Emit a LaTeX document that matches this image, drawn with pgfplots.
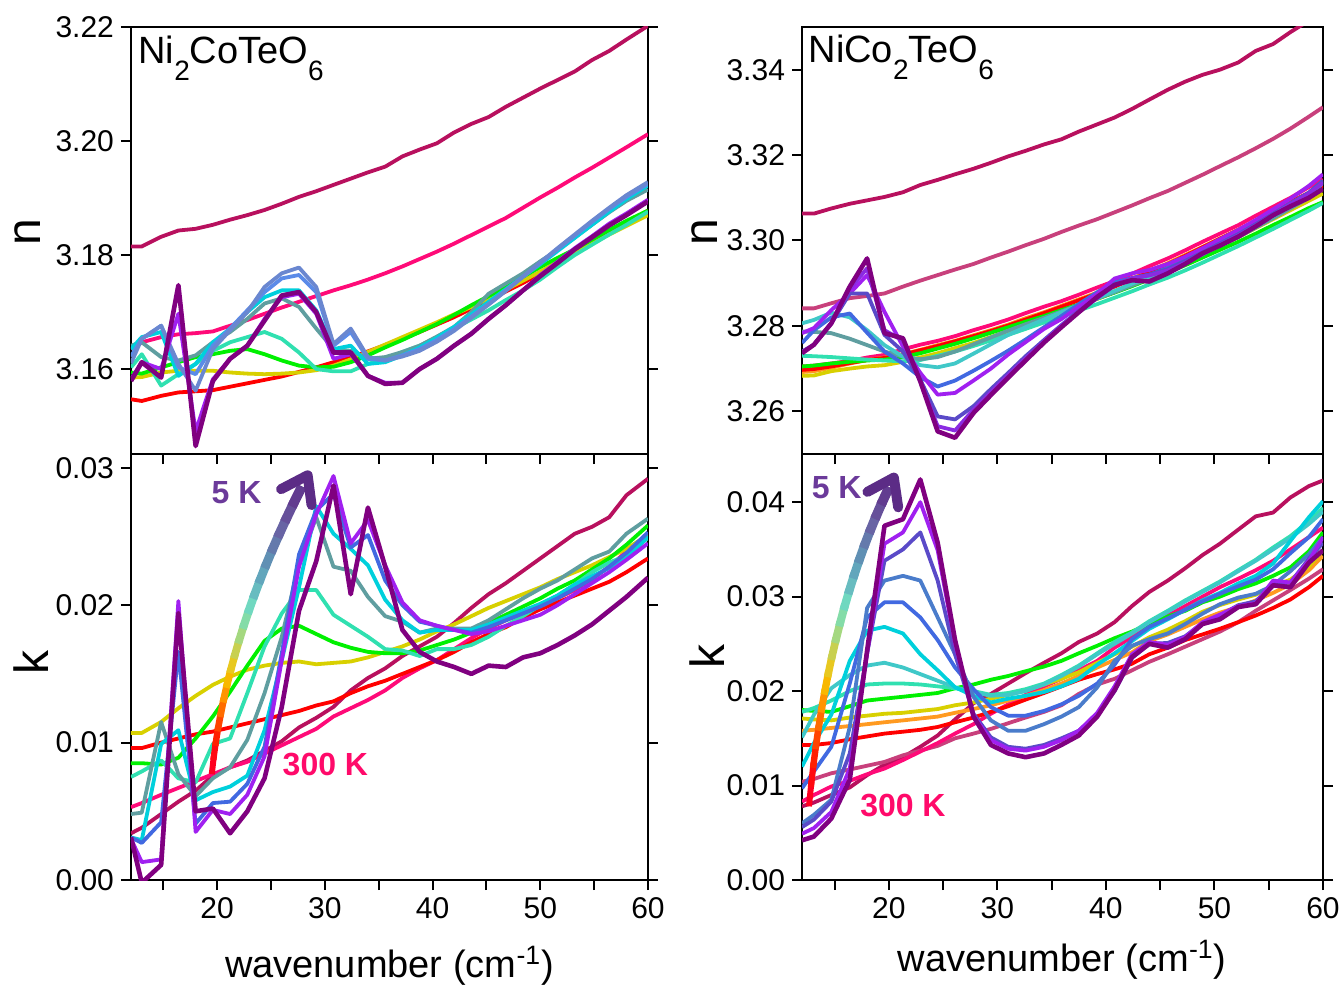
\documentclass[border=0pt]{standalone}
\usepackage{fontspec}
\setmainfont{Liberation Sans}
\usepackage{pgfplots}
\usepackage{pgfplotstable}
\pgfplotsset{compat=1.18}
\usetikzlibrary{calc, arrows.meta}

% curve colours
\definecolor{cCr}{HTML}{B8105E}
\definecolor{cMv}{HTML}{C8407C}
\definecolor{cPk}{HTML}{FF0A78}
\definecolor{cRd}{HTML}{FF0000}
\definecolor{cOr}{HTML}{FF9A20}
\definecolor{cYe}{HTML}{D8D000}
\definecolor{cGr}{HTML}{00F000}
\definecolor{cAq}{HTML}{30E0B0}
\definecolor{cCa}{HTML}{5F9EA0}
\definecolor{cMt}{HTML}{40C8C8}
\definecolor{cCy}{HTML}{00D0DC}
\definecolor{cCb}{HTML}{5B8BE8}
\definecolor{cSb}{HTML}{6A87D0}
\definecolor{cBl}{HTML}{4169E1}
\definecolor{cSt}{HTML}{4A7CCB}
\definecolor{cSl}{HTML}{5A4AC8}
\definecolor{cVi}{HTML}{A020F0}
\definecolor{cBv}{HTML}{8A2BE2}
\definecolor{cPu}{HTML}{800080}
\definecolor{c5K}{HTML}{6B3A9A}
\definecolor{c300}{HTML}{FF0A6A}

% arrow gradient, bottom (300 K) to top (5 K)
\definecolor{ar0}{HTML}{FF0020}
\definecolor{ar1}{HTML}{FF0A10}
\definecolor{ar2}{HTML}{FF2000}
\definecolor{ar3}{HTML}{FF4400}
\definecolor{ar4}{HTML}{FF6C00}
\definecolor{ar5}{HTML}{FF9400}
\definecolor{ar6}{HTML}{F8B800}
\definecolor{ar7}{HTML}{E8C820}
\definecolor{ar8}{HTML}{C8D050}
\definecolor{ar9}{HTML}{A4D880}
\definecolor{ar10}{HTML}{84DCA8}
\definecolor{ar11}{HTML}{70D8C0}
\definecolor{ar12}{HTML}{68BCC0}
\definecolor{ar13}{HTML}{62A6BC}
\definecolor{ar14}{HTML}{6090B4}
\definecolor{ar15}{HTML}{647AAC}
\definecolor{ar16}{HTML}{6864A4}
\definecolor{ar17}{HTML}{66509A}
\definecolor{ar18}{HTML}{623C90}
\definecolor{ar19}{HTML}{5C2C86}

% Ni2CoTeO6, n
\pgfplotstableread{
x    cr     pk     rd     ye     gr     aq     ca     cy     cb     sb     vi     pu
12.0 3.1815 3.1635 3.1547 3.1585 3.1594 3.1603 3.1641 3.1635 3.1622 3.1610 3.1582 3.1579
13.0 3.1815 3.1647 3.1544 3.1586 3.1592 3.1626 3.1647 3.1656 3.1653 3.1653 3.1612 3.1612
14.8 3.1832 3.1656 3.1553 3.1594 3.1603 3.1571 3.1621 3.1665 3.1676 3.1676 3.1600 3.1585
16.4 3.1843 3.1661 3.1559 3.1597 3.1612 3.1591 3.1615 3.1588 3.1603 3.1609 3.1697 3.1747
18.0 3.1846 3.1663 3.1561 3.1597 3.1621 3.1609 3.1624 3.1609 3.1591 3.1562 3.1491 3.1465
19.6 3.1853 3.1666 3.1563 3.1597 3.1626 3.1632 3.1647 3.1647 3.1641 3.1635 3.1582 3.1579
21.2 3.1862 3.1676 3.1569 3.1594 3.1632 3.1647 3.1665 3.1671 3.1671 3.1668 3.1618 3.1618
22.8 3.1870 3.1686 3.1575 3.1592 3.1635 3.1656 3.1688 3.1700 3.1703 3.1700 3.1641 3.1641
24.4 3.1879 3.1697 3.1581 3.1591 3.1626 3.1665 3.1715 3.1726 3.1735 3.1744 3.1688 3.1685
26.0 3.1890 3.1708 3.1587 3.1592 3.1615 3.1653 3.1724 3.1738 3.1759 3.1768 3.1726 3.1729
27.6 3.1902 3.1718 3.1595 3.1594 3.1606 3.1629 3.1709 3.1738 3.1765 3.1778 3.1732 3.1735
29.2 3.1912 3.1728 3.1603 3.1598 3.1603 3.1600 3.1671 3.1703 3.1735 3.1744 3.1697 3.1700
30.8 3.1923 3.1738 3.1612 3.1606 3.1604 3.1596 3.1635 3.1635 3.1641 3.1644 3.1618 3.1629
32.4 3.1934 3.1747 3.1621 3.1617 3.1612 3.1596 3.1632 3.1641 3.1665 3.1671 3.1626 3.1629
34.0 3.1945 3.1757 3.1631 3.1630 3.1624 3.1609 3.1618 3.1609 3.1618 3.1621 3.1588 3.1588
35.6 3.1955 3.1768 3.1642 3.1643 3.1638 3.1618 3.1621 3.1612 3.1615 3.1615 3.1576 3.1574
37.2 3.1973 3.1780 3.1653 3.1656 3.1651 3.1630 3.1630 3.1624 3.1624 3.1622 3.1576 3.1576
38.8 3.1985 3.1793 3.1665 3.1669 3.1665 3.1641 3.1641 3.1638 3.1635 3.1632 3.1600 3.1600
40.4 3.1996 3.1806 3.1678 3.1682 3.1679 3.1656 3.1657 3.1655 3.1651 3.1648 3.1618 3.1618
42.0 3.2015 3.1820 3.1691 3.1696 3.1695 3.1671 3.1674 3.1674 3.1670 3.1667 3.1641 3.1641
43.6 3.2030 3.1835 3.1706 3.1709 3.1712 3.1687 3.1700 3.1696 3.1692 3.1690 3.1662 3.1662
45.2 3.2042 3.1850 3.1721 3.1724 3.1728 3.1703 3.1732 3.1718 3.1714 3.1713 3.1688 3.1688
46.8 3.2060 3.1865 3.1736 3.1739 3.1744 3.1721 3.1750 3.1740 3.1738 3.1737 3.1712 3.1712
48.4 3.2076 3.1883 3.1751 3.1755 3.1762 3.1738 3.1768 3.1762 3.1762 3.1762 3.1738 3.1738
50.0 3.2092 3.1901 3.1768 3.1771 3.1779 3.1757 3.1789 3.1784 3.1786 3.1787 3.1765 3.1763
51.6 3.2107 3.1918 3.1786 3.1788 3.1795 3.1779 3.1809 3.1807 3.1810 3.1812 3.1788 3.1786
53.2 3.2122 3.1936 3.1804 3.1804 3.1810 3.1800 3.1831 3.1830 3.1834 3.1836 3.1812 3.1810
54.8 3.2142 3.1953 3.1822 3.1820 3.1827 3.1818 3.1853 3.1853 3.1858 3.1860 3.1833 3.1831
56.4 3.2158 3.1971 3.1840 3.1836 3.1844 3.1836 3.1875 3.1876 3.1881 3.1883 3.1855 3.1852
58.0 3.2178 3.1989 3.1857 3.1851 3.1860 3.1853 3.1895 3.1898 3.1902 3.1905 3.1873 3.1870
60.0 3.2202 3.2012 3.1878 3.1870 3.1878 3.1876 3.1915 3.1922 3.1925 3.1928 3.1897 3.1894
}\TLdata

% Ni2CoTeO6, k
\pgfplotstableread{
x    cr     pk     rd     ye     gr     aq     ca     cy     bl     vi     pu
12.0 0.0034 0.0053 0.0096 0.0107 0.0085 0.0075 0.0048 0.0031 0.0031 0.0030 0.0031
13.0 0.0038 0.0056 0.0096 0.0107 0.0085 0.0079 0.0049 0.0029 0.0027 0.0013 -0.0002
14.8 0.0048 0.0062 0.0100 0.0115 0.0084 0.0087 0.0115 0.0099 0.0042 0.0015 0.0011
16.4 0.0057 0.0067 0.0103 0.0125 0.0089 0.0074 0.0077 0.0109 0.0166 0.0203 0.0194
18.0 0.0065 0.0072 0.0106 0.0134 0.0103 0.0071 0.0061 0.0058 0.0041 0.0035 0.0050
19.6 0.0076 0.0077 0.0108 0.0142 0.0119 0.0099 0.0074 0.0064 0.0056 0.0051 0.0052
21.2 0.0082 0.0082 0.0111 0.0148 0.0137 0.0103 0.0082 0.0068 0.0057 0.0048 0.0034
22.8 0.0087 0.0086 0.0114 0.0153 0.0156 0.0136 0.0102 0.0076 0.0070 0.0062 0.0050
24.4 0.0094 0.0092 0.0117 0.0156 0.0174 0.0170 0.0136 0.0109 0.0097 0.0090 0.0074
26.0 0.0101 0.0098 0.0120 0.0158 0.0183 0.0194 0.0177 0.0160 0.0165 0.0160 0.0126
27.6 0.0111 0.0104 0.0123 0.0159 0.0185 0.0211 0.0230 0.0213 0.0237 0.0228 0.0196
29.2 0.0118 0.0110 0.0127 0.0157 0.0179 0.0211 0.0264 0.0272 0.0269 0.0266 0.0232
30.8 0.0126 0.0119 0.0130 0.0158 0.0173 0.0193 0.0228 0.0252 0.0281 0.0294 0.0287
32.4 0.0138 0.0125 0.0136 0.0159 0.0169 0.0185 0.0225 0.0241 0.0242 0.0245 0.0208
34.0 0.0147 0.0131 0.0141 0.0162 0.0166 0.0177 0.0206 0.0229 0.0251 0.0262 0.0271
35.6 0.0154 0.0138 0.0145 0.0166 0.0165 0.0168 0.0192 0.0204 0.0218 0.0229 0.0228
37.2 0.0163 0.0147 0.0150 0.0170 0.0165 0.0167 0.0188 0.0189 0.0200 0.0202 0.0182
38.8 0.0170 0.0154 0.0155 0.0175 0.0167 0.0163 0.0180 0.0180 0.0188 0.0189 0.0166
40.4 0.0177 0.0160 0.0160 0.0181 0.0171 0.0168 0.0183 0.0182 0.0185 0.0185 0.0159
42.0 0.0187 0.0168 0.0166 0.0186 0.0175 0.0168 0.0183 0.0182 0.0182 0.0182 0.0155
43.6 0.0198 0.0176 0.0173 0.0192 0.0180 0.0171 0.0183 0.0182 0.0180 0.0179 0.0150
45.2 0.0208 0.0183 0.0179 0.0198 0.0187 0.0177 0.0189 0.0186 0.0184 0.0181 0.0156
46.8 0.0216 0.0189 0.0184 0.0203 0.0193 0.0185 0.0197 0.0191 0.0189 0.0185 0.0155
48.4 0.0225 0.0194 0.0191 0.0208 0.0199 0.0192 0.0205 0.0196 0.0194 0.0189 0.0162
50.0 0.0234 0.0199 0.0197 0.0213 0.0205 0.0200 0.0212 0.0201 0.0199 0.0193 0.0165
51.6 0.0243 0.0205 0.0202 0.0219 0.0212 0.0207 0.0218 0.0207 0.0205 0.0200 0.0171
53.2 0.0252 0.0211 0.0207 0.0224 0.0218 0.0215 0.0226 0.0215 0.0212 0.0208 0.0178
54.8 0.0257 0.0219 0.0212 0.0229 0.0226 0.0224 0.0234 0.0221 0.0219 0.0216 0.0186
56.4 0.0264 0.0228 0.0217 0.0235 0.0234 0.0231 0.0239 0.0227 0.0228 0.0224 0.0196
58.0 0.0280 0.0239 0.0224 0.0241 0.0244 0.0236 0.0252 0.0234 0.0238 0.0233 0.0206
60.0 0.0292 0.0252 0.0234 0.0251 0.0258 0.0249 0.0263 0.0250 0.0253 0.0245 0.0220
}\BLdata

% NiCo2TeO6, n
\pgfplotstableread{
x    cr     mv     pk     or     rd     ye     gr     aq     ca     cy     bl     vi     sl     bv     pu
12.0 3.3063 3.2841 3.2705 3.2692 3.2697 3.2683 3.2705 3.2730 3.2787 3.2806 3.2760 3.2783 3.2740 3.2738 3.2736
13.1 3.3063 3.2841 3.2707 3.2694 3.2699 3.2684 3.2707 3.2729 3.2786 3.2814 3.2790 3.2795 3.2756 3.2756 3.2756
14.7 3.3075 3.2853 3.2712 3.2702 3.2705 3.2694 3.2712 3.2727 3.2783 3.2831 3.2820 3.2837 3.2806 3.2806 3.2806
16.4 3.3086 3.2865 3.2718 3.2712 3.2713 3.2700 3.2716 3.2724 3.2770 3.2820 3.2829 3.2876 3.2876 3.2886 3.2892
18.0 3.3094 3.2870 3.2726 3.2720 3.2720 3.2705 3.2719 3.2721 3.2755 3.2790 3.2784 3.2919 3.2876 3.2935 3.2958
19.6 3.3102 3.2876 3.2732 3.2726 3.2725 3.2708 3.2721 3.2719 3.2740 3.2755 3.2740 3.2833 3.2779 3.2790 3.2783
21.3 3.3113 3.2892 3.2745 3.2734 3.2733 3.2716 3.2727 3.2717 3.2728 3.2728 3.2712 3.2752 3.2740 3.2765 3.2771
22.9 3.3130 3.2906 3.2756 3.2744 3.2743 3.2726 3.2736 3.2720 3.2722 3.2708 3.2680 3.2690 3.2674 3.2670 3.2670
24.5 3.3142 3.2919 3.2765 3.2755 3.2753 3.2736 3.2747 3.2730 3.2727 3.2703 3.2658 3.2639 3.2588 3.2565 3.2553
26.1 3.3155 3.2932 3.2776 3.2765 3.2764 3.2748 3.2758 3.2740 3.2740 3.2712 3.2672 3.2643 3.2581 3.2555 3.2538
27.8 3.3168 3.2945 3.2790 3.2778 3.2776 3.2760 3.2771 3.2753 3.2757 3.2735 3.2695 3.2672 3.2612 3.2604 3.2596
29.4 3.3182 3.2960 3.2802 3.2790 3.2788 3.2774 3.2784 3.2766 3.2773 3.2757 3.2718 3.2700 3.2652 3.2645 3.2638
31.0 3.3197 3.2974 3.2815 3.2803 3.2801 3.2788 3.2797 3.2779 3.2789 3.2779 3.2742 3.2733 3.2690 3.2685 3.2679
32.6 3.3210 3.2989 3.2830 3.2818 3.2815 3.2802 3.2810 3.2793 3.2804 3.2797 3.2768 3.2762 3.2729 3.2724 3.2719
34.3 3.3225 3.3004 3.2845 3.2832 3.2830 3.2817 3.2823 3.2808 3.2819 3.2815 3.2797 3.2793 3.2767 3.2764 3.2761
35.9 3.3237 3.3020 3.2858 3.2847 3.2845 3.2832 3.2837 3.2822 3.2834 3.2832 3.2823 3.2816 3.2802 3.2800 3.2797
37.5 3.3255 3.3035 3.2873 3.2862 3.2860 3.2847 3.2850 3.2836 3.2849 3.2848 3.2851 3.2845 3.2835 3.2834 3.2832
39.2 3.3272 3.3050 3.2890 3.2878 3.2876 3.2863 3.2864 3.2851 3.2864 3.2865 3.2879 3.2875 3.2865 3.2866 3.2868
40.8 3.3288 3.3066 3.2905 3.2894 3.2892 3.2879 3.2878 3.2866 3.2879 3.2882 3.2902 3.2911 3.2896 3.2896 3.2896
42.4 3.3308 3.3082 3.2922 3.2911 3.2909 3.2896 3.2893 3.2881 3.2895 3.2899 3.2912 3.2923 3.2911 3.2912 3.2907
44.0 3.3330 3.3099 3.2940 3.2928 3.2926 3.2913 3.2909 3.2897 3.2911 3.2916 3.2920 3.2931 3.2920 3.2918 3.2904
45.7 3.3353 3.3116 3.2958 3.2947 3.2945 3.2931 3.2925 3.2913 3.2929 3.2934 3.2936 3.2945 3.2933 3.2930 3.2923
47.3 3.3372 3.3135 3.2977 3.2966 3.2964 3.2950 3.2942 3.2930 3.2948 3.2953 3.2955 3.2962 3.2952 3.2948 3.2945
48.9 3.3388 3.3154 3.2997 3.2985 3.2984 3.2969 3.2960 3.2948 3.2968 3.2972 3.2975 3.2982 3.2972 3.2968 3.2970
50.5 3.3400 3.3174 3.3016 3.3005 3.3004 3.2988 3.2978 3.2967 3.2988 3.2992 3.2996 3.3003 3.2993 3.2990 3.2988
52.2 3.3417 3.3195 3.3036 3.3025 3.3025 3.3008 3.2997 3.2987 3.3008 3.3013 3.3018 3.3025 3.3015 3.3012 3.3009
53.8 3.3444 3.3216 3.3058 3.3045 3.3046 3.3029 3.3016 3.3007 3.3030 3.3035 3.3040 3.3048 3.3038 3.3035 3.3033
55.4 3.3460 3.3238 3.3079 3.3066 3.3068 3.3050 3.3036 3.3027 3.3052 3.3057 3.3063 3.3073 3.3062 3.3060 3.3059
57.0 3.3488 3.3262 3.3100 3.3086 3.3090 3.3071 3.3055 3.3048 3.3075 3.3080 3.3087 3.3098 3.3086 3.3085 3.3080
58.7 3.3515 3.3290 3.3125 3.3106 3.3112 3.3093 3.3076 3.3070 3.3100 3.3105 3.3112 3.3128 3.3112 3.3110 3.3100
60.0 3.3535 3.3312 3.3143 3.3120 3.3128 3.3110 3.3090 3.3088 3.3138 3.3135 3.3140 3.3155 3.3140 3.3135 3.3121
}\TRdata

% NiCo2TeO6, k
\pgfplotstableread{
x    cr     mv     pk     rd     or     ye     gr     aq     mt     cy     bl     st     sl     vi     pu
12.0 0.0078 0.0104 0.0083 0.0143 0.0158 0.0171 0.0180 0.0178 0.0151 0.0120 0.0097 0.0060 0.0056 0.0049 0.0042
13.1 0.0082 0.0107 0.0090 0.0143 0.0159 0.0170 0.0179 0.0182 0.0175 0.0145 0.0115 0.0069 0.0064 0.0055 0.0046
14.7 0.0090 0.0113 0.0099 0.0145 0.0161 0.0169 0.0178 0.0190 0.0203 0.0175 0.0141 0.0085 0.0083 0.0072 0.0065
16.4 0.0098 0.0117 0.0105 0.0149 0.0163 0.0172 0.0184 0.0200 0.0217 0.0232 0.0208 0.0162 0.0134 0.0118 0.0106
18.0 0.0111 0.0121 0.0112 0.0152 0.0165 0.0174 0.0190 0.0207 0.0227 0.0264 0.0278 0.0288 0.0240 0.0240 0.0243
19.6 0.0122 0.0125 0.0118 0.0155 0.0167 0.0176 0.0192 0.0208 0.0230 0.0268 0.0294 0.0317 0.0338 0.0356 0.0375
21.3 0.0130 0.0132 0.0127 0.0157 0.0169 0.0177 0.0194 0.0208 0.0225 0.0261 0.0294 0.0322 0.0350 0.0368 0.0382
22.9 0.0141 0.0137 0.0136 0.0159 0.0171 0.0179 0.0196 0.0207 0.0218 0.0239 0.0278 0.0317 0.0368 0.0400 0.0424
24.5 0.0153 0.0142 0.0145 0.0162 0.0173 0.0181 0.0198 0.0205 0.0211 0.0222 0.0254 0.0278 0.0317 0.0349 0.0357
26.1 0.0170 0.0150 0.0155 0.0167 0.0177 0.0185 0.0203 0.0203 0.0204 0.0204 0.0225 0.0239 0.0239 0.0250 0.0254
27.8 0.0187 0.0155 0.0165 0.0172 0.0181 0.0188 0.0207 0.0200 0.0199 0.0195 0.0202 0.0194 0.0176 0.0174 0.0173
29.4 0.0197 0.0160 0.0176 0.0178 0.0185 0.0192 0.0212 0.0196 0.0195 0.0188 0.0183 0.0169 0.0151 0.0148 0.0143
31.0 0.0208 0.0166 0.0186 0.0184 0.0190 0.0196 0.0216 0.0198 0.0196 0.0192 0.0174 0.0158 0.0141 0.0139 0.0134
32.6 0.0219 0.0172 0.0196 0.0191 0.0195 0.0201 0.0221 0.0202 0.0200 0.0195 0.0174 0.0158 0.0139 0.0137 0.0130
34.3 0.0230 0.0178 0.0205 0.0198 0.0201 0.0207 0.0226 0.0208 0.0207 0.0199 0.0179 0.0165 0.0143 0.0141 0.0134
35.9 0.0240 0.0185 0.0213 0.0205 0.0208 0.0213 0.0232 0.0217 0.0216 0.0205 0.0186 0.0173 0.0150 0.0148 0.0143
37.5 0.0252 0.0197 0.0222 0.0212 0.0216 0.0220 0.0240 0.0227 0.0226 0.0213 0.0195 0.0183 0.0158 0.0158 0.0153
39.2 0.0261 0.0207 0.0232 0.0218 0.0225 0.0230 0.0248 0.0240 0.0239 0.0228 0.0208 0.0204 0.0175 0.0177 0.0173
40.8 0.0273 0.0213 0.0246 0.0223 0.0233 0.0239 0.0256 0.0252 0.0250 0.0240 0.0228 0.0232 0.0200 0.0205 0.0201
42.4 0.0290 0.0222 0.0257 0.0229 0.0241 0.0247 0.0263 0.0262 0.0261 0.0253 0.0255 0.0248 0.0235 0.0239 0.0236
44.0 0.0305 0.0231 0.0268 0.0239 0.0253 0.0257 0.0271 0.0274 0.0273 0.0266 0.0268 0.0255 0.0250 0.0252 0.0250
45.7 0.0317 0.0239 0.0280 0.0246 0.0260 0.0265 0.0279 0.0285 0.0284 0.0276 0.0277 0.0261 0.0251 0.0249 0.0246
47.3 0.0330 0.0247 0.0290 0.0254 0.0268 0.0274 0.0285 0.0296 0.0295 0.0286 0.0286 0.0271 0.0258 0.0257 0.0255
48.9 0.0344 0.0255 0.0300 0.0260 0.0276 0.0284 0.0294 0.0306 0.0305 0.0296 0.0295 0.0282 0.0272 0.0273 0.0271
50.5 0.0356 0.0263 0.0310 0.0266 0.0283 0.0291 0.0300 0.0316 0.0315 0.0304 0.0303 0.0292 0.0280 0.0281 0.0276
52.2 0.0371 0.0273 0.0319 0.0273 0.0289 0.0297 0.0308 0.0328 0.0327 0.0314 0.0311 0.0299 0.0291 0.0290 0.0289
53.8 0.0385 0.0285 0.0328 0.0280 0.0296 0.0302 0.0314 0.0339 0.0338 0.0322 0.0318 0.0303 0.0295 0.0293 0.0292
55.4 0.0389 0.0296 0.0338 0.0288 0.0304 0.0311 0.0322 0.0352 0.0350 0.0335 0.0329 0.0312 0.0313 0.0317 0.0312
57.0 0.0405 0.0307 0.0350 0.0297 0.0313 0.0318 0.0331 0.0364 0.0362 0.0359 0.0346 0.0327 0.0315 0.0315 0.0310
58.7 0.0417 0.0319 0.0363 0.0310 0.0328 0.0332 0.0348 0.0380 0.0377 0.0384 0.0363 0.0345 0.0340 0.0338 0.0336
60.0 0.0423 0.0329 0.0373 0.0322 0.0343 0.0349 0.0368 0.0394 0.0390 0.0401 0.0382 0.0363 0.0357 0.0363 0.0349
}\BRdata

\pgfplotsset{
  pan/.style={
    scale only axis, anchor=south west,
    xmin=12, xmax=60,
    xtick={20,30,40,50,60}, minor xtick={15,25,35,45,55},
    xtick pos=bottom, ytick pos=both,
    tick align=outside,
    major tick length=5pt, minor tick length=5pt,
    tick style={black, line width=1pt},
    axis line style={line width=1pt},
    tick label style={font=\fontsize{15}{18}\selectfont},
    /pgf/number format/assume math mode=true,
    scaled y ticks=false,
    yticklabel style={/pgf/number format/.cd, fixed, fixed zerofill, precision=2},
  },
  cv/.style={line width=1.9pt, line join=round, mark=none},
}

% gradient arrow along a quadratic curve, open chevron head
\newcommand{\gradarrow}[3]{%
  \foreach \i in {0,...,18}{%
    \pgfmathsetmacro\ta{\i/20}%
    \pgfmathsetmacro\tb{min((\i+1.3)/20,0.975)}%
    \pgfmathsetmacro\lw{3.0+1.9*\i/18}%
    \coordinate (qa1) at ($(#1)!\ta!(#2)$);
    \coordinate (qa2) at ($(#2)!\ta!(#3)$);
    \coordinate (qb1) at ($(#1)!\tb!(#2)$);
    \coordinate (qb2) at ($(#2)!\tb!(#3)$);
    \draw[draw=ar\i, line width=\lw pt] ($(qa1)!\ta!(qa2)$) -- ($(qb1)!\tb!(qb2)$);
  }%
  \draw[draw=ar19, line width=5pt, line cap=round, line join=round]
    ($(#3)!15pt!35:(#2)$) -- (#3) -- ($(#3)!15pt!-35:(#2)$);
}

\newcommand{\subs}[1]{\raisebox{-0.45em}{\fontsize{14}{14}\selectfont #1}}

\begin{document}
\begin{tikzpicture}
\useasboundingbox (0,0) rectangle (672pt,493.5pt);

% top left
\begin{axis}[pan, at={(65.5pt,266.5pt)}, width=258.5pt, height=213.5pt,
  ymin=3.1451, ymax=3.22, ytick={3.16,3.18,3.20,3.22}, xticklabels={}]
\addplot[cv, cCr] table[y=cr] {\TLdata};
\addplot[cv, cPk] table[y=pk] {\TLdata};
\addplot[cv, cRd] table[y=rd] {\TLdata};
\addplot[cv, cYe] table[y=ye] {\TLdata};
\addplot[cv, cGr] table[y=gr] {\TLdata};
\addplot[cv, cAq] table[y=aq] {\TLdata};
\addplot[cv, cCa] table[y=ca] {\TLdata};
\addplot[cv, cCy] table[y=cy] {\TLdata};
\addplot[cv, cCb] table[y=cb] {\TLdata};
\addplot[cv, cSb] table[y=sb] {\TLdata};
\addplot[cv, cVi] table[y=vi] {\TLdata};
\addplot[cv, cPu, line width=2.3pt] table[y=pu] {\TLdata};
\node[anchor=north west, inner sep=0pt, font=\fontsize{19}{19}\selectfont]
  at (rel axis cs:0.0135,0.979) {Ni\subs{2}CoTeO\subs{6}};
\end{axis}

% bottom left
\begin{axis}[pan, at={(65.5pt,53.5pt)}, width=258.5pt, height=213pt,
  ymin=0, ymax=0.031, ytick={0,0.01,0.02,0.03}]
\addplot[cv, cCr] table[y=cr] {\BLdata};
\addplot[cv, cPk] table[y=pk] {\BLdata};
\addplot[cv, cRd] table[y=rd] {\BLdata};
\addplot[cv, cYe] table[y=ye] {\BLdata};
\addplot[cv, cGr] table[y=gr] {\BLdata};
\addplot[cv, cAq] table[y=aq] {\BLdata};
\addplot[cv, cCa] table[y=ca] {\BLdata};
\addplot[cv, cCy] table[y=cy] {\BLdata};
\addplot[cv, cBl] table[y=bl] {\BLdata};
\addplot[cv, cVi] table[y=vi] {\BLdata};
\addplot[cv, cPu, line width=2.3pt] table[y=pu] {\BLdata};
\coordinate (LA0) at (axis cs:19.5,0.0077);
\coordinate (LA1) at (axis cs:20.8,0.0180);
\coordinate (LA2) at (axis cs:28.4,0.02945);
\node[text=c5K, font=\bfseries\fontsize{16}{16}\selectfont] at (axis cs:21.8,0.0282) {5 K};
\node[text=c300, font=\bfseries\fontsize{16}{16}\selectfont] at (axis cs:30.05,0.0084) {300 K};
\end{axis}

% top right
\begin{axis}[pan, at={(401pt,266.5pt)}, width=260.5pt, height=213.5pt,
  ymin=3.25, ymax=3.35, ytick={3.26,3.28,3.30,3.32,3.34}, xticklabels={}]
\addplot[cv, cCr] table[y=cr] {\TRdata};
\addplot[cv, cMv] table[y=mv] {\TRdata};
\addplot[cv, cPk] table[y=pk] {\TRdata};
\addplot[cv, cOr] table[y=or] {\TRdata};
\addplot[cv, cRd] table[y=rd] {\TRdata};
\addplot[cv, cYe] table[y=ye] {\TRdata};
\addplot[cv, cGr] table[y=gr] {\TRdata};
\addplot[cv, cAq] table[y=aq] {\TRdata};
\addplot[cv, cCa] table[y=ca] {\TRdata};
\addplot[cv, cMt] table[y=cy] {\TRdata};
\addplot[cv, cBl] table[y=bl] {\TRdata};
\addplot[cv, cVi] table[y=vi] {\TRdata};
\addplot[cv, cSl] table[y=sl] {\TRdata};
\addplot[cv, cBv] table[y=bv] {\TRdata};
\addplot[cv, cPu, line width=2.3pt] table[y=pu] {\TRdata};
\node[anchor=north west, inner sep=0pt, font=\fontsize{19}{19}\selectfont]
  at (rel axis cs:0.012,0.982) {NiCo\subs{2}TeO\subs{6}};
\end{axis}

% bottom right
\begin{axis}[pan, at={(401pt,53.5pt)}, width=260.5pt, height=213pt,
  ymin=0, ymax=0.0451, ytick={0,0.01,0.02,0.03,0.04}]
\addplot[cv, cCr] table[y=cr] {\BRdata};
\addplot[cv, cMv] table[y=mv] {\BRdata};
\addplot[cv, cPk] table[y=pk] {\BRdata};
\addplot[cv, cRd] table[y=rd] {\BRdata};
\addplot[cv, cOr] table[y=or] {\BRdata};
\addplot[cv, cYe] table[y=ye] {\BRdata};
\addplot[cv, cGr] table[y=gr] {\BRdata};
\addplot[cv, cAq] table[y=aq] {\BRdata};
\addplot[cv, cMt] table[y=mt] {\BRdata};
\addplot[cv, cCy] table[y=cy] {\BRdata};
\addplot[cv, cBl] table[y=bl] {\BRdata};
\addplot[cv, cSt] table[y=st] {\BRdata};
\addplot[cv, cSl] table[y=sl] {\BRdata};
\addplot[cv, cVi] table[y=vi] {\BRdata};
\addplot[cv, cPu, line width=2.3pt] table[y=pu] {\BRdata};
\coordinate (RA0) at (axis cs:12.64,0.0078);
\coordinate (RA1) at (axis cs:14.3,0.0285);
\coordinate (RA2) at (axis cs:20.46,0.0426);
\node[text=c5K, font=\bfseries\fontsize{16}{16}\selectfont] at (axis cs:15.2,0.0415) {5 K};
\node[text=c300, font=\bfseries\fontsize{16}{16}\selectfont] at (axis cs:21.3,0.0079) {300 K};
\end{axis}

\gradarrow{LA0}{LA1}{LA2}
\gradarrow{RA0}{RA1}{RA2}

% axis labels
\node[rotate=90, font=\fontsize{24}{24}\selectfont] at (14pt,377.5pt) {n};
\node[rotate=90, font=\fontsize{24}{24}\selectfont] at (15.5pt,162.5pt) {k};
\node[rotate=90, font=\fontsize{24}{24}\selectfont] at (352.25pt,377.5pt) {n};
\node[rotate=90, font=\fontsize{24}{24}\selectfont] at (353.5pt,165.5pt) {k};
\node[font=\fontsize{19}{19}\selectfont] at (194.75pt,10.5pt) {wavenumber (cm\textsuperscript{-1})};
\node[font=\fontsize{19}{19}\selectfont] at (531pt,13.5pt) {wavenumber (cm\textsuperscript{-1})};
\end{tikzpicture}
\end{document}
